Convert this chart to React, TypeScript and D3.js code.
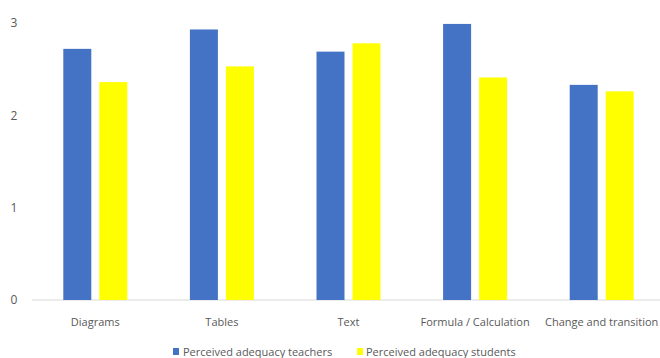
import React from "react";
import * as d3 from "d3";

const categories = ["Diagrams", "Tables", "Text", "Formula / Calculation", "Change and transition"];
const teachers = [2.72, 2.93, 2.69, 2.99, 2.33];
const students = [2.36, 2.53, 2.78, 2.41, 2.26];
const seriesNames = ["Perceived adequacy teachers", "Perceived adequacy students"];
const yTicks = [0, 1, 2, 3];

const W = 660;
const H = 358;
const FONT = "'Open Sans', sans-serif";

export default function App() {
  const x = d3.scaleBand<string>().domain(categories).range([32, 665]).paddingInner(0).paddingOuter(0);
  const y = d3.scaleLinear().domain([0, 3]).range([300, 23]);
  const barW = 28;
  const gap = 8;
  const colors = ["#4472C4", "#FFFF00"];
  const series = [teachers, students];

  return (
    <svg width={W} height={H} style={{ position: "absolute", left: 0, top: 0, background: "#fff" }}>
      <rect x={0} y={0} width={W} height={H} fill="#fff" />
      {yTicks.map((t) => (
        <text key={t} x={14} y={y(t)} dy="0.35em" textAnchor="middle" fontFamily={FONT} fontSize={12} fill="#595959">
          {t}
        </text>
      ))}
      <line x1={32} x2={660} y1={y(0)} y2={y(0)} stroke="#d9d9d9" strokeWidth={1} />
      {categories.map((c, i) => {
        const cx = (x(c) as number) + x.bandwidth() / 2;
        return (
          <g key={c}>
            {series.map((s, k) => {
              const bx = k === 0 ? cx - gap / 2 - barW : cx + gap / 2;
              return <rect key={k} x={bx} y={y(s[i])} width={barW} height={y(0) - y(s[i])} fill={colors[k]} />;
            })}
            <text x={cx} y={322} dy="0.35em" textAnchor="middle" fontFamily={FONT} fontSize={11} fill="#595959">
              {c}
            </text>
          </g>
        );
      })}
      <g>
        <rect x={173} y={348} width={6} height={7} fill={colors[0]} />
        <text x={183} y={352} dy="0.35em" fontFamily={FONT} fontSize={11} fill="#595959">{seriesNames[0]}</text>
        <rect x={357} y={348} width={6} height={7} fill={colors[1]} />
        <text x={366} y={352} dy="0.35em" fontFamily={FONT} fontSize={11} fill="#595959">{seriesNames[1]}</text>
      </g>
    </svg>
  );
}
